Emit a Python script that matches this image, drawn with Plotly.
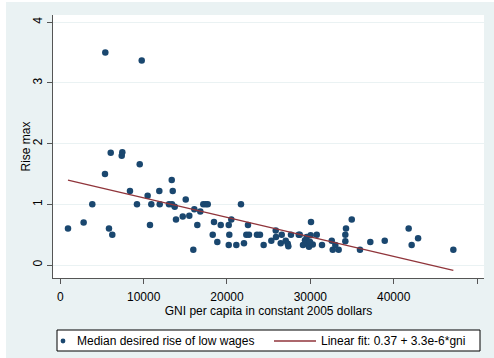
import plotly.graph_objects as go

# GNI per capita (constant 2005 USD) and median desired rise of low wages
gni = [924, 2800, 3840, 5360, 5400, 5840, 6050, 6240, 7370, 7440, 8360, 9200, 9530, 9770,
       10480, 10920, 10760, 11880, 11930, 13370, 13490, 13040, 13400, 13730, 13880, 14690,
       15050, 15480, 15960, 16080, 16440, 16800, 17160, 17450, 17690, 18290, 18440, 18840,
       19250, 20210, 20280, 20210, 20520, 21120, 21680, 22040, 22520, 22320, 22640, 23600,
       23960, 24400, 25320, 25850, 25880, 26450, 26570, 27050, 27290, 27360, 27680, 28610,
       28730, 29120, 29360, 29570, 29770, 29840, 30080, 30040, 30290, 29960, 30770, 31400,
       32570, 32690, 33000, 33400, 34200, 34200, 34280, 34970, 35960, 37200, 38930, 41800,
       42160, 42930, 47160]
rise = [0.60, 0.70, 1.00, 1.50, 3.50, 0.60, 1.85, 0.50, 1.80, 1.86, 1.22, 1.00, 1.66, 3.37,
        1.14, 1.00, 0.66, 1.22, 1.00, 1.40, 1.22, 1.00, 1.00, 0.96, 0.75, 0.80,
        1.08, 0.81, 0.25, 0.92, 0.66, 0.88, 1.00, 1.00, 1.00, 0.50, 0.71, 0.38,
        0.66, 0.66, 0.50, 0.33, 0.75, 0.33, 1.00, 0.36, 0.66, 0.50, 0.50, 0.50,
        0.50, 0.33, 0.40, 0.57, 0.46, 0.36, 0.50, 0.40, 0.35, 0.31, 0.50, 0.50,
        0.50, 0.33, 0.41, 0.46, 0.33, 0.30, 0.71, 0.49, 0.34, 0.38, 0.50, 0.33,
        0.40, 0.25, 0.33, 0.25, 0.39, 0.50, 0.60, 0.75, 0.25, 0.38, 0.40, 0.60,
        0.33, 0.44, 0.25]

# Fitted line endpoints
fit_x = [924, 47160]
fit_y = [1.40, -0.09]

x_ticks = [0, 10000, 20000, 30000, 40000, 50000]
x_tick_labels = ["0", "10000", "20000", "30000", "40000", "50000"]
y_ticks = [0, 1, 2, 3, 4]
y_tick_labels = ["0", "1", "2", "3", "4"]

scatter_name = "Median desired rise of low wages"
fit_name = "Linear fit: 0.37 + 3.3e-6*gni"
x_title = "GNI per capita in constant 2005 dollars"
y_title = "Rise max"

NAVY = "#1A476F"
MAROON = "#90353B"
BG = "#EAF2F3"
FONT = "Liberation Sans, Arial, sans-serif"
FS = 12

W, H = 494, 358
ML, MR, MT, MB = 53, 10, 15, 80
PW, PH = W - ML - MR, H - MT - MB


def px(x):
    return (x - ML) / PW


def py(y):
    return (H - MB - y) / PH


fig = go.Figure()
fig.add_trace(go.Scatter(x=gni, y=rise, mode="markers", name=scatter_name,
                         marker=dict(color=NAVY, size=6.5, line=dict(width=0))))
fig.add_trace(go.Scatter(x=fit_x, y=fit_y, mode="lines", name=fit_name,
                         line=dict(color=MAROON, width=1.3)))

shapes = [
    # outer graph region and white plot region
    dict(type="rect", xref="paper", yref="paper", x0=px(6), x1=px(494), y0=py(358), y1=py(2),
         fillcolor=BG, line=dict(width=0), layer="below"),
    dict(type="rect", xref="paper", yref="paper", x0=0, x1=1, y0=0, y1=1,
         fillcolor="white", line=dict(width=0), layer="below"),
    # legend box
    dict(type="rect", xref="paper", yref="paper", x0=px(57), x1=px(480), y0=py(351), y1=py(330),
         fillcolor="white", line=dict(color="black", width=1)),
    dict(type="line", xref="paper", yref="paper", x0=px(274), x1=px(316), y0=py(341), y1=py(341),
         line=dict(color=MAROON, width=1.3)),
    dict(type="circle", xref="paper", yref="paper", x0=px(60.6), x1=px(65.4),
         y0=py(343.4), y1=py(338.6), fillcolor=NAVY, line=dict(width=0)),
]

annotations = [
    dict(text=scatter_name, xref="paper", yref="paper", x=px(75), y=py(341),
         xanchor="left", yanchor="middle", showarrow=False,
         font=dict(family=FONT, size=FS, color="black")),
    dict(text=fit_name, xref="paper", yref="paper", x=px(319), y=py(341),
         xanchor="left", yanchor="middle", showarrow=False,
         font=dict(family=FONT, size=FS, color="black")),
    dict(text=y_title, xref="paper", yref="paper", x=px(25), y=0.5, textangle=-90,
         xanchor="center", yanchor="middle", showarrow=False,
         font=dict(family=FONT, size=FS, color="black")),
]

fig.update_layout(
    width=W, height=H,
    margin=dict(l=ML, r=MR, t=MT, b=MB),
    paper_bgcolor="white", plot_bgcolor="white",
    showlegend=False,
    font=dict(family=FONT, size=FS, color="black"),
    shapes=shapes, annotations=annotations,
    xaxis=dict(range=[-876, 50840], tickvals=x_ticks, ticktext=x_tick_labels,
               showgrid=False, zeroline=False, showline=True, linecolor="#555", linewidth=1,
               ticks="outside", ticklen=5, tickcolor="#555", ticklabelstandoff=3,
               title=dict(text=x_title, standoff=0, font=dict(size=FS))),
    yaxis=dict(range=[-0.214, 4.12], tickvals=y_ticks, ticktext=y_tick_labels,
               tickangle=-90, showgrid=True, gridcolor=BG, gridwidth=1, zeroline=False,
               showline=True, linecolor="#555", linewidth=1,
               ticks="outside", ticklen=5, tickcolor="#555", ticklabelstandoff=0),
)

fig.write_html("out.html")
